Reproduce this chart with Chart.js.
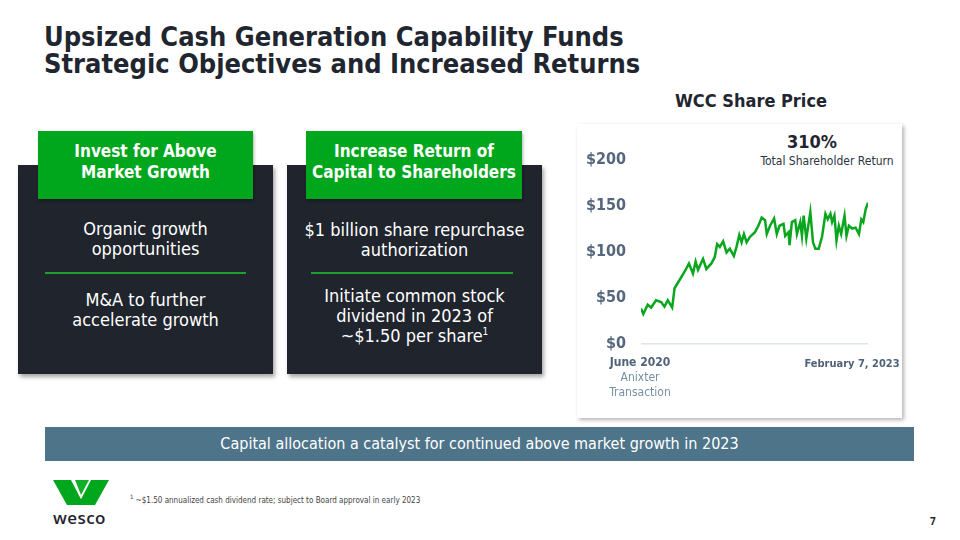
<!DOCTYPE html>
<html>
<head>
<meta charset="utf-8">
<script src="https://cdn.jsdelivr.net/npm/chart.js@4.4.1/dist/chart.umd.min.js"></script>
<style>
  html, body { margin: 0; padding: 0; }
  body { width: 960px; height: 540px; position: relative; background: #fff; overflow: hidden;
         font-family: "Open Sans", "Noto Sans", sans-serif; color: #1f2630; }
  .abs { position: absolute; }
  .cond { font-family: "DejaVu Sans Condensed", "Liberation Sans", sans-serif; }
  #title { left: 44px; top: 23px; font-size: 27px; line-height: 27px; font-weight: bold; color: #1f2630; white-space: nowrap; }
  .dark { background: #1f242d; box-shadow: 2px 3px 4px rgba(0,0,0,0.35); }
  .hdr { background: #00a61c; color: #fff; font-weight: bold; font-size: 17px; line-height: 21px;
         text-align: center; display: flex; align-items: center; justify-content: center;
         box-shadow: 1px 2px 3px rgba(0,0,0,0.3); }
  .body { color: #fff; text-align: center; font-size: 18px; line-height: 20px; }
  .rule { background: #1ea030; height: 2px; }
  #panel { left: 577px; top: 124px; width: 325px; height: 294px; background: #fff;
           box-shadow: 2px 2px 4px rgba(0,0,0,0.3); }
  #banner { left: 45px; top: 427px; width: 869px; height: 34px; background: #4e7489; color: #fff;
            font-size: 16px; line-height: 34px; text-align: center; }
</style>
</head>
<body>
<div id="title" class="abs cond">Upsized Cash Generation Capability Funds<br>Strategic Objectives and Increased Returns</div>

<div class="abs cond" style="left:651px;top:90px;width:200px;text-align:center;font-weight:bold;font-size:18px;">WCC Share Price</div>

<div class="abs dark" style="left:18px;top:165px;width:255px;height:209px;"></div>
<div class="abs hdr cond" style="left:38px;top:131px;width:215px;height:68px;"><div style="margin-top:-6px;">Invest for Above<br>Market Growth</div></div>
<div class="abs body cond" style="left:18px;top:219px;width:255px;">Organic growth<br>opportunities</div>
<div class="abs rule" style="left:45px;top:272px;width:201px;"></div>
<div class="abs body cond" style="left:18px;top:290px;width:255px;">M&amp;A to further<br>accelerate growth</div>

<div class="abs dark" style="left:287px;top:165px;width:255px;height:209px;"></div>
<div class="abs hdr cond" style="left:306px;top:131px;width:216px;height:68px;"><div style="margin-top:-6px;">Increase Return of<br>Capital to Shareholders</div></div>
<div class="abs body cond" style="left:287px;top:220px;width:255px;">$1 billion share repurchase<br>authorization</div>
<div class="abs rule" style="left:311px;top:272px;width:202px;"></div>
<div class="abs body cond" style="left:287px;top:286px;width:255px;">Initiate common stock<br>dividend in 2023 of<br>~$1.50 per share<sup style="font-size:10px;line-height:0;">1</sup></div>

<div id="panel" class="abs"></div>
<div class="abs cond" style="left:752px;top:131px;width:120px;text-align:center;font-weight:bold;font-size:18px;color:#1f2630;">310%</div>
<div class="abs cond" style="left:752px;top:154px;width:150px;text-align:center;font-size:12px;color:#2b3440;">Total Shareholder Return</div>

<div class="abs" style="left:580px;top:135px;width:297px;height:233px;"><canvas id="c"></canvas></div>

<div class="abs cond" style="left:590px;top:355px;width:100px;text-align:center;font-size:12px;line-height:15px;color:#7890a3;"><b style="color:#4f6278;">June 2020</b><br>Anixter<br>Transaction</div>
<div class="abs cond" style="left:792px;top:356px;width:120px;text-align:center;font-size:11px;line-height:15px;font-weight:bold;color:#4f6278;">February 7, 2023</div>

<div id="banner" class="abs cond">Capital allocation a catalyst for continued above market growth in 2023</div>

<svg class="abs" style="left:53px;top:480px;" width="56" height="26" viewBox="0 0 56 26">
  <polygon points="0,0 18,0 31,25 14,25" fill="#00a61c"/>
  <polygon points="22,0 36,0 28,15" fill="#12b02a"/>
  <polygon points="38,0 56,0 42,25 25,25" fill="#00a61c"/>
</svg>
<div class="abs" style="left:53px;top:506px;font-size:17px;font-weight:600;color:#1f2630;letter-spacing:0.4px;">wesco</div>

<div class="abs cond" style="left:130px;top:493px;font-size:8px;color:#444;"><sup style="font-size:6px;">1</sup> ~$1.50 annualized cash dividend rate; subject to Board approval in early 2023</div>
<div class="abs" style="left:930px;top:514px;font-size:10px;font-weight:bold;color:#1f2630;">7</div>

<script>
// months since June 2020 (Anixter transaction) -> share price ($)
const months = [0, 0.33, 0.95, 1.43, 2.14, 2.85, 3.33, 3.80, 4.42, 4.76, 5.47, 6.18, 6.80, 7.37, 7.75,
  8.09, 8.80, 9.27, 9.99, 10.46, 10.80, 11.18, 11.65, 12.13, 12.60, 13.17, 13.55, 13.94, 14.27, 14.60,
  14.98, 15.46, 16.17, 16.65, 17.12, 17.60, 17.84, 18.31, 18.88, 19.26, 19.64, 20.21, 20.45, 20.93,
  21.07, 21.40, 21.88, 22.12, 22.59, 22.83, 23.07, 23.45, 24.02, 24.40, 24.73, 25.21, 25.68, 26.16,
  26.49, 26.87, 27.11, 27.44, 27.73, 28.06, 28.39, 28.87, 29.15, 29.49, 29.96, 30.44, 30.92, 31.25,
  31.53, 31.87, 32.2];
const prices = [38, 32, 42, 39, 47, 45, 40, 47, 39, 60, 69, 78, 87, 76, 89,
  80, 92, 81, 87, 94, 108, 105, 111, 99, 103, 95, 105, 118, 110, 119,
  110, 116, 121, 128, 137, 134, 119, 128, 136, 119, 128, 130, 117, 121,
  107, 132, 134, 119, 132, 117, 139, 114, 143, 110, 103, 103, 116, 141,
  135, 141, 132, 139, 112, 128, 119, 139, 117, 128, 125, 126, 119, 135,
  132, 146, 153];
const yTicks = [0, 50, 100, 150, 200];

const points = months.map((m, i) => ({ x: m, y: prices[i] }));

new Chart(document.getElementById('c'), {
  type: 'line',
  data: {
    datasets: [{
      data: points,
      borderColor: '#0aa61e',
      borderWidth: 2.5,
      pointRadius: 0,
      tension: 0
    }]
  },
  options: {
    responsive: true,
    maintainAspectRatio: false,
    animation: false,
    layout: { padding: { top: 0, bottom: 0, right: 9, left: 0 } },
    plugins: { legend: { display: false }, tooltip: { enabled: false } },
    scales: {
      x: { type: 'linear', min: 0, max: 32.2, display: false },
      y: {
        min: 0, max: 200,
        afterBuildTicks: (s) => { s.ticks = yTicks.map(v => ({ value: v })); },
        afterFit: (s) => { s.width = 61; },
        border: { display: false },
        grid: {
          drawTicks: false,
          color: (ctx) => ctx.tick && ctx.tick.value === 0 ? '#dfe5ec' : 'rgba(0,0,0,0)',
          lineWidth: 1.5
        },
        ticks: {
          padding: 15,
          color: '#55677d',
          font: { family: '"DejaVu Sans Condensed", sans-serif', size: 16, weight: 'bold' },
          callback: (v) => '$' + v
        }
      }
    }
  }
});
</script>
</body>
</html>
